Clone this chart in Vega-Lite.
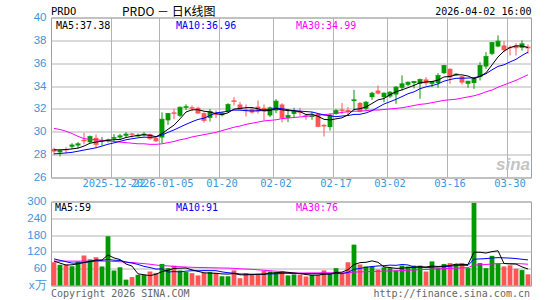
{
"$schema": "https://vega.github.io/schema/vega-lite/v6.json",
"autosize": {"type": "pad"},
"padding": {"left": 26, "top": 5.5, "right": 14, "bottom": 2},
"background": "white",
"bounds": "flush",
"spacing": 24,
"config": {
 "view": {"stroke": "#a0a0a0", "strokeWidth": 1},
 "axis": {"gridColor": "#b4b4b4", "gridWidth": 1, "gridOpacity": 1, "domain": false, "ticks": false, "labelColor": "#3c96dc", "title": null, "labelOverlap": false},
 "axisY": {"labelOverlap": false, "labelFont": "Liberation Sans", "labelFontSize": 11.5, "labelPadding": 5},
 "line": {"strokeWidth": 1}
},
"datasets": {"k": [
{"d":"2025-12-08","o":28.5,"h":28.6,"l":28.0,"c":28.3,"m5":28.42,"m10":28.07,"m30":30.3,"v":83,"v5":87,"v10":95,"v30":87},
{"d":"2025-12-09","o":28.2,"h":28.45,"l":27.84,"c":28.35,"m5":28.42,"m10":28.1,"m30":30.2,"v":74,"v5":80,"v10":90,"v30":87},
{"d":"2025-12-10","o":28.5,"h":28.65,"l":28.1,"c":28.4,"m5":28.45,"m10":28.15,"m30":30.05,"v":75,"v5":73,"v10":85,"v30":87},
{"d":"2025-12-11","o":28.7,"h":29.0,"l":28.5,"c":28.85,"m5":28.5,"m10":28.2,"m30":29.85,"v":69,"v5":74,"v10":80,"v30":87},
{"d":"2025-12-12","o":28.8,"h":29.1,"l":28.55,"c":28.95,"m5":28.57,"m10":28.3,"m30":29.6,"v":86,"v5":77.4,"v10":80,"v30":87},
{"d":"2025-12-15","o":29.3,"h":29.9,"l":28.9,"c":29.2,"m5":28.75,"m10":28.4,"m30":29.4,"v":107,"v5":82.2,"v10":82,"v30":87},
{"d":"2025-12-16","o":29.09,"h":29.68,"l":29.0,"c":29.59,"m5":29.0,"m10":28.5,"m30":29.35,"v":93,"v5":86,"v10":85,"v30":87},
{"d":"2025-12-17","o":29.47,"h":29.76,"l":28.6,"c":28.89,"m5":29.1,"m10":28.6,"m30":29.3,"v":101,"v5":91.2,"v10":88,"v30":87},
{"d":"2025-12-18","o":29.15,"h":29.55,"l":28.8,"c":29.25,"m5":29.18,"m10":28.75,"m30":29.25,"v":68,"v5":91,"v10":90,"v30":87},
{"d":"2025-12-19","o":29.2,"h":29.4,"l":29.05,"c":29.3,"m5":29.25,"m10":28.91,"m30":29.2,"v":176,"v5":109,"v10":93.2,"v30":87},
{"d":"2025-12-22","o":29.4,"h":29.8,"l":29.1,"c":29.5,"m5":29.31,"m10":29.03,"m30":29.15,"v":54,"v5":98.4,"v10":90.3,"v30":86},
{"d":"2025-12-23","o":29.5,"h":29.82,"l":29.3,"c":29.65,"m5":29.32,"m10":29.16,"m30":29.1,"v":65,"v5":92.8,"v10":89.4,"v30":85},
{"d":"2025-12-24","o":29.65,"h":29.97,"l":29.5,"c":29.8,"m5":29.5,"m10":29.3,"m30":29.05,"v":21,"v5":76.8,"v10":84,"v30":83},
{"d":"2025-12-26","o":29.85,"h":29.9,"l":29.5,"c":29.75,"m5":29.6,"m10":29.39,"m30":29.0,"v":30,"v5":69.2,"v10":80.1,"v30":82},
{"d":"2025-12-29","o":29.6,"h":29.85,"l":29.55,"c":29.7,"m5":29.68,"m10":29.47,"m30":28.95,"v":38,"v5":41.6,"v10":75.3,"v30":80},
{"d":"2025-12-30","o":29.7,"h":29.97,"l":29.6,"c":29.8,"m5":29.74,"m10":29.53,"m30":28.95,"v":38,"v5":38.4,"v10":68.4,"v30":78},
{"d":"2025-12-31","o":29.8,"h":29.85,"l":29.3,"c":29.4,"m5":29.69,"m10":29.51,"m30":28.9,"v":50,"v5":35.4,"v10":64.1,"v30":76},
{"d":"2026-01-02","o":29.45,"h":29.5,"l":29.1,"c":29.2,"m5":29.57,"m10":29.54,"m30":28.9,"v":45,"v5":40.2,"v10":58.5,"v30":73},
{"d":"2026-01-05","o":29.5,"h":31.7,"l":29.0,"c":31.1,"m5":29.84,"m10":29.72,"m30":28.95,"v":77,"v5":49.6,"v10":59.4,"v30":71},
{"d":"2026-01-06","o":31.0,"h":31.65,"l":30.6,"c":31.6,"m5":30.22,"m10":29.95,"m30":29.05,"v":62,"v5":54.4,"v10":48,"v30":70},
{"d":"2026-01-07","o":31.7,"h":32.0,"l":31.1,"c":31.6,"m5":30.58,"m10":30.16,"m30":29.15,"v":71,"v5":61,"v10":49.7,"v30":68},
{"d":"2026-01-08","o":31.4,"h":32.2,"l":31.3,"c":32.15,"m5":31.13,"m10":30.41,"m30":29.3,"v":54,"v5":61.8,"v10":48.6,"v30":67},
{"d":"2026-01-09","o":32.1,"h":32.4,"l":31.9,"c":32.2,"m5":31.73,"m10":30.65,"m30":29.4,"v":48,"v5":62.4,"v10":51.3,"v30":66},
{"d":"2026-01-12","o":32.15,"h":32.3,"l":31.8,"c":32.05,"m5":31.92,"m10":30.88,"m30":29.55,"v":44,"v5":55.8,"v10":52.7,"v30":65},
{"d":"2026-01-13","o":32.1,"h":32.2,"l":31.6,"c":31.63,"m5":31.93,"m10":31.08,"m30":29.65,"v":36,"v5":50.6,"v10":52.5,"v30":64.5},
{"d":"2026-01-14","o":31.63,"h":31.7,"l":30.8,"c":30.99,"m5":31.8,"m10":31.19,"m30":29.75,"v":45,"v5":45.4,"v10":53.2,"v30":64},
{"d":"2026-01-15","o":31.22,"h":32.0,"l":30.9,"c":31.78,"m5":31.73,"m10":31.43,"m30":29.85,"v":48,"v5":44.2,"v10":53,"v30":63.5},
{"d":"2026-01-16","o":31.6,"h":31.86,"l":31.2,"c":31.5,"m5":31.59,"m10":31.66,"m30":29.95,"v":45,"v5":43.6,"v10":53,"v30":63},
{"d":"2026-01-20","o":31.45,"h":31.75,"l":31.35,"c":31.63,"m5":31.51,"m10":31.72,"m30":30.1,"v":33,"v5":41.4,"v10":48.6,"v30":62.5},
{"d":"2026-01-21","o":31.78,"h":32.5,"l":31.7,"c":32.39,"m5":31.66,"m10":31.8,"m30":30.25,"v":33,"v5":40.8,"v10":45.7,"v30":62.3},
{"d":"2026-01-22","o":32.75,"h":33.03,"l":32.3,"c":32.65,"m5":31.99,"m10":31.9,"m30":30.4,"v":54,"v5":42.6,"v10":44,"v30":61.3},
{"d":"2026-01-23","o":32.39,"h":32.6,"l":31.9,"c":32.01,"m5":32.04,"m10":31.89,"m30":30.5,"v":26,"v5":38.2,"v10":41.2,"v30":59.7},
{"d":"2026-01-26","o":31.95,"h":32.39,"l":31.34,"c":31.85,"m5":32.11,"m10":31.85,"m30":30.65,"v":44,"v5":38,"v10":40.8,"v30":58.7},
{"d":"2026-01-27","o":32.0,"h":32.1,"l":31.6,"c":31.72,"m5":32.12,"m10":31.82,"m30":30.75,"v":38,"v5":39,"v10":40.2,"v30":57.7},
{"d":"2026-01-28","o":32.2,"h":32.74,"l":31.6,"c":31.81,"m5":32.01,"m10":31.84,"m30":30.85,"v":38,"v5":40,"v10":40.4,"v30":56.1},
{"d":"2026-01-29","o":32.1,"h":32.39,"l":31.0,"c":31.81,"m5":31.84,"m10":31.92,"m30":30.95,"v":52,"v5":39.6,"v10":41.1,"v30":54.2},
{"d":"2026-01-30","o":31.43,"h":32.2,"l":31.3,"c":32.1,"m5":31.86,"m10":31.95,"m30":31.0,"v":50,"v5":44.4,"v10":41.3,"v30":52.8},
{"d":"2026-02-02","o":31.86,"h":32.85,"l":31.63,"c":32.68,"m5":32.02,"m10":32.07,"m30":31.05,"v":48,"v5":45.2,"v10":41.6,"v30":51.0},
{"d":"2026-02-03","o":32.39,"h":32.5,"l":30.81,"c":31.22,"m5":31.92,"m10":32.02,"m30":31.15,"v":50,"v5":47.6,"v10":43.3,"v30":50.4},
{"d":"2026-02-04","o":31.22,"h":32.0,"l":30.85,"c":31.43,"m5":31.85,"m10":31.93,"m30":31.2,"v":36,"v5":47.2,"v10":43.6,"v30":45.8},
{"d":"2026-02-05","o":31.57,"h":32.1,"l":31.2,"c":31.78,"m5":31.84,"m10":31.84,"m30":31.25,"v":39,"v5":44.6,"v10":42.1,"v30":45.3},
{"d":"2026-02-06","o":31.81,"h":32.1,"l":31.4,"c":31.7,"m5":31.76,"m10":31.81,"m30":31.3,"v":39,"v5":42.4,"v10":43.4,"v30":44.4},
{"d":"2026-02-09","o":31.45,"h":31.57,"l":31.05,"c":31.4,"m5":31.51,"m10":31.77,"m30":31.35,"v":32,"v5":39.2,"v10":42.2,"v30":44.8},
{"d":"2026-02-10","o":31.3,"h":31.72,"l":31.05,"c":31.4,"m5":31.54,"m10":31.73,"m30":31.4,"v":38,"v5":36.8,"v10":42.2,"v30":45.0},
{"d":"2026-02-11","o":31.57,"h":31.6,"l":30.4,"c":30.46,"m5":31.35,"m10":31.6,"m30":31.45,"v":38,"v5":37.2,"v10":42.2,"v30":45.0},
{"d":"2026-02-12","o":30.6,"h":30.7,"l":29.59,"c":30.5,"m5":31.09,"m10":31.47,"m30":31.5,"v":54,"v5":40.2,"v10":42.4,"v30":45.6},
{"d":"2026-02-13","o":30.41,"h":31.6,"l":30.11,"c":31.43,"m5":31.04,"m10":31.4,"m30":31.55,"v":42,"v5":40.8,"v10":41.6,"v30":45.3},
{"d":"2026-02-17","o":31.57,"h":32.0,"l":31.5,"c":31.86,"m5":31.13,"m10":31.32,"m30":31.6,"v":62,"v5":46.8,"v10":43,"v30":45.9},
{"d":"2026-02-18","o":31.95,"h":32.51,"l":31.57,"c":31.85,"m5":31.22,"m10":31.38,"m30":31.7,"v":42,"v5":47.6,"v10":42.2,"v30":44.7},
{"d":"2026-02-19","o":31.9,"h":32.16,"l":31.43,"c":31.8,"m5":31.49,"m10":31.42,"m30":31.75,"v":83,"v5":56.6,"v10":46.9,"v30":45.4},
{"d":"2026-02-20","o":32.7,"h":33.67,"l":31.86,"c":32.8,"m5":31.95,"m10":31.52,"m30":31.8,"v":146,"v5":75,"v10":57.6,"v30":47.9},
{"d":"2026-02-23","o":32.53,"h":32.6,"l":31.7,"c":31.81,"m5":32.02,"m10":31.53,"m30":31.8,"v":75,"v5":81.6,"v10":61.2,"v30":48.6},
{"d":"2026-02-24","o":32.01,"h":32.7,"l":31.9,"c":32.59,"m5":32.17,"m10":31.65,"m30":31.85,"v":68,"v5":82.8,"v10":64.8,"v30":49.3},
{"d":"2026-02-25","o":33.03,"h":33.5,"l":32.8,"c":33.38,"m5":32.48,"m10":31.85,"m30":31.9,"v":68,"v5":88,"v10":67.8,"v30":50.1},
{"d":"2026-02-26","o":33.61,"h":34.05,"l":33.26,"c":33.38,"m5":32.79,"m10":32.14,"m30":31.9,"v":57,"v5":82.8,"v10":69.7,"v30":50.8},
{"d":"2026-02-27","o":33.03,"h":33.45,"l":32.59,"c":33.38,"m5":32.91,"m10":32.43,"m30":31.95,"v":65,"v5":66.6,"v10":70.8,"v30":51.4},
{"d":"2026-03-02","o":33.09,"h":33.55,"l":32.95,"c":33.47,"m5":33.24,"m10":32.63,"m30":32.0,"v":62,"v5":64,"v10":72.8,"v30":51.9},
{"d":"2026-03-03","o":33.26,"h":34.0,"l":32.45,"c":33.91,"m5":33.5,"m10":32.84,"m30":32.05,"v":54,"v5":61.2,"v10":72,"v30":52.2},
{"d":"2026-03-04","o":33.85,"h":34.93,"l":33.61,"c":34.2,"m5":33.67,"m10":33.08,"m30":32.1,"v":71,"v5":61.8,"v10":74.9,"v30":53.5},
{"d":"2026-03-05","o":34.11,"h":34.4,"l":34.0,"c":34.34,"m5":33.86,"m10":33.33,"m30":32.2,"v":68,"v5":64,"v10":73.4,"v30":54.6},
{"d":"2026-03-06","o":34.27,"h":34.45,"l":33.8,"c":34.4,"m5":34.06,"m10":33.49,"m30":32.3,"v":71,"v5":65.2,"v10":65.9,"v30":55.2},
{"d":"2026-03-09","o":34.2,"h":34.65,"l":32.89,"c":34.58,"m5":34.29,"m10":33.77,"m30":32.4,"v":71,"v5":67,"v10":65.5,"v30":56.7},
{"d":"2026-03-10","o":34.58,"h":34.78,"l":34.05,"c":34.27,"m5":34.36,"m10":33.93,"m30":32.45,"v":50,"v5":66.2,"v10":63.7,"v30":56.9},
{"d":"2026-03-11","o":34.2,"h":34.45,"l":33.91,"c":34.4,"m5":34.4,"m10":34.04,"m30":32.55,"v":86,"v5":69.2,"v10":65.5,"v30":58.5},
{"d":"2026-03-12","o":34.27,"h":35.13,"l":33.85,"c":34.93,"m5":34.52,"m10":34.19,"m30":32.65,"v":62,"v5":68,"v10":66,"v30":59.3},
{"d":"2026-03-13","o":35.13,"h":35.85,"l":35.05,"c":35.8,"m5":34.8,"m10":34.43,"m30":32.75,"v":77,"v5":69.2,"v10":67.2,"v30":60.1},
{"d":"2026-03-16","o":35.51,"h":35.55,"l":34.2,"c":34.78,"m5":34.84,"m10":34.57,"m30":32.8,"v":80,"v5":71,"v10":69,"v30":61.1},
{"d":"2026-03-17","o":34.95,"h":35.13,"l":34.9,"c":35.05,"m5":34.99,"m10":34.68,"m30":32.85,"v":77,"v5":76.4,"v10":71.3,"v30":62.1},
{"d":"2026-03-18","o":34.85,"h":34.9,"l":34.14,"c":34.34,"m5":34.98,"m10":34.69,"m30":32.95,"v":80,"v5":75.2,"v10":72.2,"v30":63.1},
{"d":"2026-03-19","o":34.2,"h":34.45,"l":33.85,"c":34.43,"m5":34.88,"m10":34.7,"m30":33.05,"v":62,"v5":75.2,"v10":71.6,"v30":64.0},
{"d":"2026-03-20","o":34.27,"h":34.65,"l":33.76,"c":34.63,"m5":34.65,"m10":34.73,"m30":33.15,"v":295,"v5":118.8,"v10":94,"v30":72.5},
{"d":"2026-03-23","o":34.78,"h":36.09,"l":34.49,"c":35.8,"m5":34.85,"m10":34.85,"m30":33.3,"v":80,"v5":118.8,"v10":94.9,"v30":73.9},
{"d":"2026-03-24","o":35.71,"h":36.97,"l":35.51,"c":36.59,"m5":35.16,"m10":35.08,"m30":33.5,"v":62,"v5":115.8,"v10":96.1,"v30":74.9},
{"d":"2026-03-25","o":36.82,"h":37.85,"l":36.7,"c":37.81,"m5":35.85,"m10":35.42,"m30":33.65,"v":106,"v5":121,"v10":98.1,"v30":77.1},
{"d":"2026-03-26","o":37.46,"h":38.43,"l":37.4,"c":37.93,"m5":36.55,"m10":35.72,"m30":33.9,"v":77,"v5":124,"v10":99.6,"v30":78.4},
{"d":"2026-03-27","o":37.55,"h":37.93,"l":36.97,"c":37.17,"m5":37.06,"m10":35.86,"m30":34.1,"v":68,"v5":78.6,"v10":98.7,"v30":78.5},
{"d":"2026-03-30","o":37.42,"h":37.55,"l":36.68,"c":37.35,"m5":37.37,"m10":36.11,"m30":34.3,"v":72,"v5":77,"v10":97.9,"v30":78.5},
{"d":"2026-03-31","o":37.55,"h":37.75,"l":36.68,"c":37.35,"m5":37.52,"m10":36.34,"m30":34.5,"v":60,"v5":76.6,"v10":96.2,"v30":78},
{"d":"2026-04-01","o":37.35,"h":37.99,"l":37.11,"c":37.7,"m5":37.5,"m10":36.68,"m30":34.75,"v":55,"v5":66.4,"v10":93.7,"v30":77.5},
{"d":"2026-04-02","o":37.45,"h":37.64,"l":36.82,"c":37.33,"m5":37.38,"m10":36.97,"m30":34.99,"v":40,"v5":59,"v10":91.5,"v30":76}
]},
"vconcat": [
{
 "width": 480, "height": 160,
 "data": {"name": "k"},
 "encoding": {"x": {"field": "d", "type": "ordinal", "scale": {"type": "band", "paddingInner": 0, "paddingOuter": 0},
   "axis": {"values": ["2025-12-22","2026-01-05","2026-01-20","2026-02-02","2026-02-17","2026-03-02","2026-03-16","2026-03-30"],
     "bandPosition": 0, "grid": true, "labelAngle": 0, "labelOverlap": false, "labelFlush": false, "labelBound": false,
     "labelExpr": "datum.value < '2026-01-06' ? datum.value : slice(datum.value, 5)",
     "labelFont": "DejaVu Sans Mono", "labelFontSize": 10.5, "labelPadding": 1}}},
 "layer": [
  {"mark": {"type": "rule", "strokeWidth": 1},
   "encoding": {"y": {"field": "l", "type": "quantitative", "scale": {"domain": [26, 40], "nice": false, "zero": false},
      "axis": {"values": [26,28,30,32,34,36,38,40], "grid": true, "labelOverlap": false, "labelFlush": false, "labelBound": false}},
    "y2": {"field": "h"},
    "color": {"condition": {"test": "datum.c >= datum.o", "value": "#009900"}, "value": "#ff5555"}}},
  {"mark": {"type": "bar", "width": {"band": 0.8}},
   "encoding": {"y": {"field": "o", "type": "quantitative", "axis": {"values": [26,28,30,32,34,36,38,40], "grid": true, "labelOverlap": false, "labelFlush": false, "labelBound": false}}, "y2": {"field": "c"},
    "color": {"condition": {"test": "datum.c >= datum.o", "value": "#009900"}, "value": "#ff5555"}}},
  {"mark": {"type": "tick", "size": 5, "thickness": 1, "orient": "horizontal"},
   "encoding": {"y": {"field": "c", "type": "quantitative", "axis": {"values": [26,28,30,32,34,36,38,40], "grid": true, "labelOverlap": false, "labelFlush": false, "labelBound": false}},
    "color": {"condition": {"test": "datum.c >= datum.o", "value": "#009900"}, "value": "#ff5555"}}},
  {"mark": {"type": "line", "color": "#ff00ff"}, "encoding": {"y": {"field": "m30", "type": "quantitative", "axis": {"values": [26,28,30,32,34,36,38,40], "grid": true, "labelOverlap": false, "labelFlush": false, "labelBound": false}}}},
  {"mark": {"type": "line", "color": "#0000ff"}, "encoding": {"y": {"field": "m10", "type": "quantitative", "axis": {"values": [26,28,30,32,34,36,38,40], "grid": true, "labelOverlap": false, "labelFlush": false, "labelBound": false}}}},
  {"mark": {"type": "line", "color": "#000000"}, "encoding": {"y": {"field": "m5", "type": "quantitative", "axis": {"values": [26,28,30,32,34,36,38,40], "grid": true, "labelOverlap": false, "labelFlush": false, "labelBound": false}}}},
  {"data": {"values": [{"t": "PRDO"}]},
   "mark": {"type": "text", "align": "left", "baseline": "middle", "dx": -3, "dy": -5.5, "font": "DejaVu Sans Mono", "fontSize": 10.5, "color": "#000"},
   "encoding": {"x": {"datum": "2025-12-08", "type": "ordinal"}, "y": {"datum": 40, "type": "quantitative", "axis": {"values": [26,28,30,32,34,36,38,40], "grid": true, "labelOverlap": false, "labelFlush": false, "labelBound": false}}, "text": {"field": "t"}}},
  {"data": {"values": [{"t": "PRDO － 日K线图"}]},
   "mark": {"type": "text", "align": "left", "baseline": "middle", "dx": -4, "dy": -5.5, "font": "Noto Sans CJK SC", "fontSize": 12, "color": "#000"},
   "encoding": {"x": {"datum": "2025-12-24", "type": "ordinal"}, "y": {"datum": 40, "type": "quantitative", "axis": {"values": [26,28,30,32,34,36,38,40], "grid": true, "labelOverlap": false, "labelFlush": false, "labelBound": false}}, "text": {"field": "t"}}},
  {"data": {"values": [{"t": "2026-04-02 16:00"}]},
   "mark": {"type": "text", "align": "right", "baseline": "middle", "dx": 3.5, "dy": -5.5, "font": "DejaVu Sans Mono", "fontSize": 10, "color": "#000"},
   "encoding": {"x": {"datum": "2026-04-02", "type": "ordinal"}, "y": {"datum": 40, "type": "quantitative", "axis": {"values": [26,28,30,32,34,36,38,40], "grid": true, "labelOverlap": false, "labelFlush": false, "labelBound": false}}, "text": {"field": "t"}}},
  {"data": {"values": [{"t": "MA5:37.38"}]},
   "mark": {"type": "text", "align": "left", "baseline": "middle", "dx": 2, "dy": 8, "font": "DejaVu Sans Mono", "fontSize": 10, "color": "#000000"},
   "encoding": {"x": {"datum": "2025-12-08", "type": "ordinal"}, "y": {"datum": 40, "type": "quantitative", "axis": {"values": [26,28,30,32,34,36,38,40], "grid": true, "labelOverlap": false, "labelFlush": false, "labelBound": false}}, "text": {"field": "t"}}},
  {"data": {"values": [{"t": "MA10:36.96"}]},
   "mark": {"type": "text", "align": "left", "baseline": "middle", "dx": 2, "dy": 8, "font": "DejaVu Sans Mono", "fontSize": 10, "color": "#0000ff"},
   "encoding": {"x": {"datum": "2026-01-07", "type": "ordinal"}, "y": {"datum": 40, "type": "quantitative", "axis": {"values": [26,28,30,32,34,36,38,40], "grid": true, "labelOverlap": false, "labelFlush": false, "labelBound": false}}, "text": {"field": "t"}}},
  {"data": {"values": [{"t": "MA30:34.99"}]},
   "mark": {"type": "text", "align": "left", "baseline": "middle", "dx": 2, "dy": 8, "font": "DejaVu Sans Mono", "fontSize": 10, "color": "#ff00ff"},
   "encoding": {"x": {"datum": "2026-02-05", "type": "ordinal"}, "y": {"datum": 40, "type": "quantitative", "axis": {"values": [26,28,30,32,34,36,38,40], "grid": true, "labelOverlap": false, "labelFlush": false, "labelBound": false}}, "text": {"field": "t"}}},
  {"data": {"values": [{"t": "sina"}]},
   "mark": {"type": "text", "align": "center", "baseline": "middle", "dx": -3, "font": "Liberation Sans", "fontSize": 17, "fontWeight": "bold", "fontStyle": "italic", "color": "#c4c4c4"},
   "encoding": {"x": {"datum": "2026-03-31", "type": "ordinal"}, "y": {"datum": 27.1, "type": "quantitative", "axis": {"values": [26,28,30,32,34,36,38,40], "grid": true, "labelOverlap": false, "labelFlush": false, "labelBound": false}}, "text": {"field": "t"}}}
 ]
},
{
 "width": 480, "height": 84,
 "data": {"name": "k"},
 "encoding": {"x": {"field": "d", "type": "ordinal", "scale": {"type": "band", "paddingInner": 0, "paddingOuter": 0}, "axis": null}},
 "layer": [
  {"mark": {"type": "bar", "width": {"band": 0.8}},
   "encoding": {"y": {"field": "v", "type": "quantitative", "scale": {"domain": [0, 300], "nice": false},
      "axis": {"values": [0,60,120,180,240,300], "grid": true, "labelOverlap": false, "labelFlush": false, "labelBound": false, "labelExpr": "datum.value == 0 ? 'x万' : datum.label"}},
    "color": {"condition": {"test": "datum.c >= datum.o", "value": "#009900"}, "value": "#ff5555"}}},
  {"mark": {"type": "line", "color": "#ff00ff"}, "encoding": {"y": {"field": "v30", "type": "quantitative", "axis": {"values": [0,60,120,180,240,300], "grid": true, "labelOverlap": false, "labelFlush": false, "labelBound": false, "labelExpr": "datum.value == 0 ? 'x万' : datum.label"}}}},
  {"mark": {"type": "line", "color": "#0000ff"}, "encoding": {"y": {"field": "v10", "type": "quantitative", "axis": {"values": [0,60,120,180,240,300], "grid": true, "labelOverlap": false, "labelFlush": false, "labelBound": false, "labelExpr": "datum.value == 0 ? 'x万' : datum.label"}}}},
  {"mark": {"type": "line", "color": "#000000"}, "encoding": {"y": {"field": "v5", "type": "quantitative", "axis": {"values": [0,60,120,180,240,300], "grid": true, "labelOverlap": false, "labelFlush": false, "labelBound": false, "labelExpr": "datum.value == 0 ? 'x万' : datum.label"}}}},
  {"data": {"values": [{"t": "MA5:59"}]},
   "mark": {"type": "text", "align": "left", "baseline": "middle", "dx": 1, "dy": 6, "font": "DejaVu Sans Mono", "fontSize": 10, "color": "#000000"},
   "encoding": {"x": {"datum": "2025-12-08", "type": "ordinal"}, "y": {"datum": 300, "type": "quantitative", "axis": {"values": [0,60,120,180,240,300], "grid": true, "labelOverlap": false, "labelFlush": false, "labelBound": false, "labelExpr": "datum.value == 0 ? 'x万' : datum.label"}}, "text": {"field": "t"}}},
  {"data": {"values": [{"t": "MA10:91"}]},
   "mark": {"type": "text", "align": "left", "baseline": "middle", "dx": 2, "dy": 6, "font": "DejaVu Sans Mono", "fontSize": 10, "color": "#0000ff"},
   "encoding": {"x": {"datum": "2026-01-07", "type": "ordinal"}, "y": {"datum": 300, "type": "quantitative", "axis": {"values": [0,60,120,180,240,300], "grid": true, "labelOverlap": false, "labelFlush": false, "labelBound": false, "labelExpr": "datum.value == 0 ? 'x万' : datum.label"}}, "text": {"field": "t"}}},
  {"data": {"values": [{"t": "MA30:76"}]},
   "mark": {"type": "text", "align": "left", "baseline": "middle", "dx": 2, "dy": 6, "font": "DejaVu Sans Mono", "fontSize": 10, "color": "#ff00ff"},
   "encoding": {"x": {"datum": "2026-02-05", "type": "ordinal"}, "y": {"datum": 300, "type": "quantitative", "axis": {"values": [0,60,120,180,240,300], "grid": true, "labelOverlap": false, "labelFlush": false, "labelBound": false, "labelExpr": "datum.value == 0 ? 'x万' : datum.label"}}, "text": {"field": "t"}}},
  {"data": {"values": [{"t": "Copyright 2026 SINA.COM"}]},
   "mark": {"type": "text", "align": "left", "baseline": "middle", "dx": -3, "dy": 8, "font": "DejaVu Sans Mono", "fontSize": 10, "color": "#666666"},
   "encoding": {"x": {"datum": "2025-12-08", "type": "ordinal"}, "y": {"datum": 0, "type": "quantitative", "axis": {"values": [0,60,120,180,240,300], "grid": true, "labelOverlap": false, "labelFlush": false, "labelBound": false, "labelExpr": "datum.value == 0 ? 'x万' : datum.label"}}, "text": {"field": "t"}}},
  {"data": {"values": [{"t": "http://finance.sina.com.cn"}]},
   "mark": {"type": "text", "align": "right", "baseline": "middle", "dx": 2, "dy": 8, "font": "DejaVu Sans Mono", "fontSize": 10, "color": "#666666"},
   "encoding": {"x": {"datum": "2026-04-02", "type": "ordinal"}, "y": {"datum": 0, "type": "quantitative", "axis": {"values": [0,60,120,180,240,300], "grid": true, "labelOverlap": false, "labelFlush": false, "labelBound": false, "labelExpr": "datum.value == 0 ? 'x万' : datum.label"}}, "text": {"field": "t"}}}
 ]
}
]
}
